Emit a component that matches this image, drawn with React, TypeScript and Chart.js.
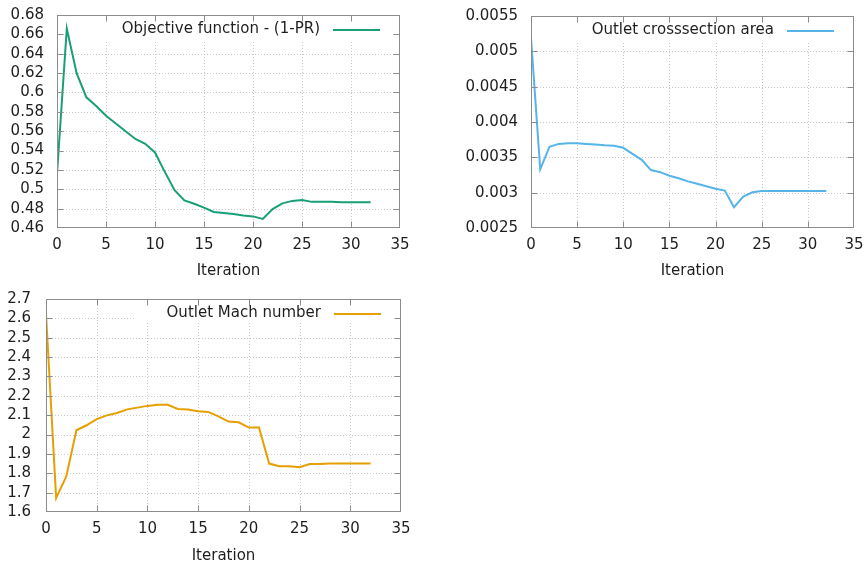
import React, { useEffect, useRef } from 'react';
import { Chart, registerables } from 'chart.js';

Chart.register(...registerables);

// ---------- data ----------
const iterations = [0, 1, 2, 3, 4, 5, 6, 7, 8, 9, 10, 11, 12, 13, 14, 15, 16, 17, 18, 19, 20, 21, 22, 23, 24, 25, 26, 27, 28, 29, 30, 31, 32];

const objectiveValues = [
  0.516, 0.666, 0.62, 0.595, 0.586, 0.576, 0.568, 0.56, 0.552, 0.547, 0.538,
  0.518, 0.499, 0.4885, 0.485, 0.481, 0.4765, 0.4755, 0.4745, 0.4728, 0.472,
  0.4693, 0.4796, 0.4855, 0.488, 0.489, 0.487, 0.487, 0.487, 0.4865, 0.4865,
  0.4865, 0.4865,
];

const areaValues = [
  0.00519, 0.00333, 0.00365, 0.00369, 0.0037, 0.0037, 0.00369, 0.00368, 0.00367,
  0.003665, 0.003635, 0.00355, 0.003465, 0.00332, 0.00329, 0.00324, 0.003205,
  0.00316, 0.003125, 0.00309, 0.003055, 0.00303, 0.002795, 0.002945, 0.003005,
  0.003025, 0.003025, 0.003025, 0.003025, 0.003025, 0.003025, 0.003025, 0.003025,
];

const machValues = [
  2.624, 1.672, 1.784, 2.022, 2.048, 2.08, 2.099, 2.111, 2.13, 2.139, 2.148,
  2.154, 2.154, 2.132, 2.129, 2.12, 2.117, 2.094, 2.067, 2.063, 2.036, 2.036,
  1.85, 1.836, 1.836, 1.831, 1.848, 1.848, 1.851, 1.851, 1.851, 1.851, 1.851,
];

const xTicks = [0, 5, 10, 15, 20, 25, 30, 35];
const objectiveTicks = [0.46, 0.48, 0.5, 0.52, 0.54, 0.56, 0.58, 0.6, 0.62, 0.64, 0.66, 0.68];
const areaTicks = [0.0025, 0.003, 0.0035, 0.004, 0.0045, 0.005, 0.0055];
const machTicks = [1.6, 1.7, 1.8, 1.9, 2, 2.1, 2.2, 2.3, 2.4, 2.5, 2.6, 2.7];

const objectiveLabel = 'Objective function - (1-PR)';
const areaLabel = 'Outlet crosssection area';
const machLabel = 'Outlet Mach number';
const xTitle = 'Iteration';

// ---------- style ----------
const FONT_FAMILY = '"DejaVu Sans", Verdana, sans-serif';
const FONT_SIZE = 15;
const TEXT_COLOR = '#1e1e1e';
const BORDER_COLOR = '#8c8c8c';
const GRID_COLOR = '#c8c8c8';

const gnuplotPlugin = {
  id: 'gp',
  beforeDatasetsDraw(chart: any, _args: any, opts: any) {
    const { ctx, chartArea: a, scales } = chart;
    const x = scales.x;
    const y = scales.y;
    ctx.save();
    ctx.strokeStyle = GRID_COLOR;
    ctx.lineWidth = 1;
    ctx.setLineDash([1, 2]);
    for (const v of opts.xTicks) {
      const px = Math.round(x.getPixelForValue(v)) + 0.5;
      if (px <= a.left + 1 || px >= a.right - 1) continue;
      ctx.beginPath();
      ctx.moveTo(px, a.top);
      ctx.lineTo(px, a.bottom);
      ctx.stroke();
    }
    for (const v of opts.yTicks) {
      const py = Math.round(y.getPixelForValue(v)) + 0.5;
      if (py <= a.top + 1 || py >= a.bottom - 1) continue;
      ctx.beginPath();
      ctx.moveTo(a.left, py);
      ctx.lineTo(a.right, py);
      ctx.stroke();
    }
    ctx.setLineDash([]);
    // opaque key area
    ctx.font = `${FONT_SIZE}px ${FONT_FAMILY}`;
    const tw = ctx.measureText(opts.label).width;
    const sampleRight = a.right - 20;
    const sampleLeft = sampleRight - 47;
    const textRight = sampleLeft - 13;
    const boxLeft = opts.fullKeyBox ? a.left : Math.max(a.left, textRight - tw - 31);
    ctx.fillStyle = '#ffffff';
    ctx.fillRect(boxLeft, a.top, a.right - boxLeft, opts.keyHeight);
    ctx.restore();
  },
  afterDatasetsDraw(chart: any, _args: any, opts: any) {
    const { ctx, chartArea: a, scales } = chart;
    const x = scales.x;
    const y = scales.y;
    ctx.save();
    ctx.strokeStyle = BORDER_COLOR;
    ctx.lineWidth = 1;
    const L = Math.round(a.left) + 0.5;
    const R = Math.round(a.right) - 0.5;
    const T = Math.round(a.top) + 0.5;
    const B = Math.round(a.bottom) - 0.5;
    ctx.strokeRect(L, T, R - L, B - T);
    const tick = 6;
    ctx.beginPath();
    for (const v of opts.xTicks) {
      const px = Math.round(x.getPixelForValue(v)) + 0.5;
      if (px <= L + 1 || px >= R - 1) continue;
      ctx.moveTo(px, B);
      ctx.lineTo(px, B - tick);
      ctx.moveTo(px, T);
      ctx.lineTo(px, T + tick);
    }
    for (const v of opts.yTicks) {
      const py = Math.round(y.getPixelForValue(v)) + 0.5;
      if (py <= T + 1 || py >= B - 1) continue;
      ctx.moveTo(L, py);
      ctx.lineTo(L + tick, py);
      ctx.moveTo(R, py);
      ctx.lineTo(R - tick, py);
    }
    ctx.stroke();
    // key
    ctx.font = `${FONT_SIZE}px ${FONT_FAMILY}`;
    const sampleRight = a.right - 20;
    const sampleLeft = sampleRight - 47;
    const textRight = sampleLeft - 13;
    const ky = a.top + 14.5;
    ctx.fillStyle = TEXT_COLOR;
    ctx.textAlign = 'right';
    ctx.textBaseline = 'middle';
    ctx.fillText(opts.label, textRight, ky);
    ctx.strokeStyle = opts.color;
    ctx.lineWidth = 2;
    ctx.beginPath();
    ctx.moveTo(sampleLeft, Math.round(ky));
    ctx.lineTo(sampleRight, Math.round(ky));
    ctx.stroke();
    ctx.restore();
  },
};

type PanelProps = {
  left: number;
  top: number;
  width: number;
  height: number;
  values: number[];
  yTicks: number[];
  label: string;
  color: string;
  padTop: number;
  padRight: number;
  yWidth: number;
  xHeight: number;
  titlePadBottom: number;
  keyHeight: number;
  yPad: number;
  fullKeyBox?: boolean;
};

function Panel(p: PanelProps) {
  const ref = useRef<HTMLCanvasElement | null>(null);
  useEffect(() => {
    if (!ref.current) return;
    const font = { family: FONT_FAMILY, size: FONT_SIZE };
    const chart = new Chart(ref.current, {
      type: 'line',
      data: {
        datasets: [
          {
            label: p.label,
            data: iterations.map((it, i) => ({ x: it, y: p.values[i] })),
            borderColor: p.color,
            backgroundColor: p.color,
            borderWidth: 2,
            pointRadius: 0,
            tension: 0,
            fill: false,
          },
        ],
      },
      options: {
        responsive: false,
        animation: false,
        devicePixelRatio: 1,
        layout: { padding: { top: p.padTop, right: p.padRight, left: 0, bottom: 0 } },
        plugins: {
          legend: { display: false },
          tooltip: { enabled: false },
          gp: {
            xTicks,
            yTicks: p.yTicks,
            label: p.label,
            color: p.color,
            keyHeight: p.keyHeight,
            fullKeyBox: !!p.fullKeyBox,
          },
        } as any,
        scales: {
          x: {
            type: 'linear',
            min: 0,
            max: 35,
            grid: { display: false },
            border: { display: false },
            afterBuildTicks: (s: any) => {
              s.ticks = xTicks.map((v) => ({ value: v }));
            },
            afterFit: (s: any) => {
              s.height = p.xHeight;
            },
            ticks: {
              color: TEXT_COLOR,
              font,
              padding: 0,
              maxRotation: 0,
              autoSkip: false,
              callback: (v: any) => String(v),
            },
            title: {
              display: true,
              text: xTitle,
              color: TEXT_COLOR,
              font,
              padding: { top: 0, bottom: p.titlePadBottom },
            },
          },
          y: {
            type: 'linear',
            min: p.yTicks[0],
            max: p.yTicks[p.yTicks.length - 1],
            grid: { display: false },
            border: { display: false },
            afterBuildTicks: (s: any) => {
              s.ticks = p.yTicks.map((v) => ({ value: v }));
            },
            afterFit: (s: any) => {
              s.width = p.yWidth;
            },
            ticks: {
              color: TEXT_COLOR,
              font,
              padding: p.yPad,
              autoSkip: false,
              callback: (v: any) => String(parseFloat(Number(v).toPrecision(6))),
            },
          },
        },
      },
      plugins: [gnuplotPlugin as any],
    });
    return () => chart.destroy();
  }, []);
  return (
    <canvas
      ref={ref}
      width={p.width}
      height={p.height}
      style={{ position: 'absolute', left: p.left, top: p.top, width: p.width, height: p.height }}
    />
  );
}

export default function App() {
  return (
    <div
      style={{
        position: 'fixed',
        left: 0,
        top: 0,
        width: 868,
        height: 565,
        background: '#ffffff',
        overflow: 'hidden',
      }}
    >
      <Panel
        left={0}
        top={0}
        width={434}
        height={282}
        values={objectiveValues}
        yTicks={objectiveTicks}
        label={objectiveLabel}
        color="#1a9e77"
        padTop={15}
        padRight={34}
        yWidth={57}
        xHeight={54}
        titlePadBottom={2}
        keyHeight={25}
        yPad={5}
        fullKeyBox
      />
      <Panel
        left={434}
        top={0}
        width={434}
        height={282}
        values={areaValues}
        yTicks={areaTicks}
        label={areaLabel}
        color="#56b4e9"
        padTop={16}
        padRight={14}
        yWidth={97}
        xHeight={54}
        titlePadBottom={2}
        keyHeight={25}
        yPad={5}
      />
      <Panel
        left={0}
        top={282}
        width={434}
        height={283}
        values={machValues}
        yTicks={machTicks}
        label={machLabel}
        color="#e69f00"
        padTop={17}
        padRight={33}
        yWidth={46}
        xHeight={53}
        titlePadBottom={0}
        keyHeight={24}
        yPad={7}
      />
    </div>
  );
}
